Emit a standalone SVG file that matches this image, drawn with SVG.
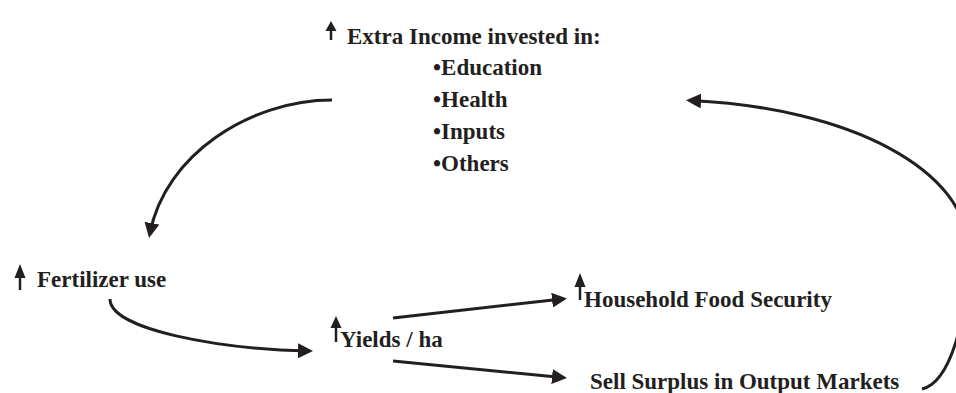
<svg xmlns="http://www.w3.org/2000/svg" width="956" height="393" viewBox="0 0 956 393">
<style>
.t{font-family:"Liberation Serif","Times New Roman",serif;font-weight:bold;font-size:23px;fill:#231f20}
.c{fill:none;stroke:#231f20;stroke-width:3;marker-end:url(#ah)}
.up polygon{fill:#231f20}
.up line{stroke:#231f20;stroke-width:2.5}
</style>
<defs>
<marker id="ah" markerUnits="userSpaceOnUse" markerWidth="15" markerHeight="15" viewBox="0 0 15 15" refX="10" refY="7.5" orient="auto">
<path d="M0,0 L15,7.5 L0,15 z" fill="#231f20"/>
</marker>
</defs>
<rect width="956" height="393" fill="#fff"/>
<g id="income">
<g class="up"><polygon points="331,21 325.5,31 336.5,31"/><line x1="331" y1="30" x2="331" y2="40"/></g>
<text class="t" x="347" y="44">Extra Income invested in:</text>
<text class="t" x="433" y="75">•Education</text>
<text class="t" x="433" y="107">•Health</text>
<text class="t" x="433" y="139">•Inputs</text>
<text class="t" x="433" y="171">•Others</text>
</g>
<g id="fertilizer">
<g class="up"><polygon points="20,264 14.5,278 25.5,278"/><line x1="20" y1="276" x2="20" y2="290"/></g>
<text class="t" x="37" y="287">Fertilizer use</text>
</g>
<g id="yields">
<g class="up"><polygon points="336,316 330.5,328 341.5,328"/><line x1="336" y1="326" x2="336" y2="342"/></g>
<text class="t" x="340" y="347">Yields / ha</text>
</g>
<g id="foodsecurity">
<g class="up"><polygon points="580,273 574.5,287 585.5,287"/><line x1="580" y1="285" x2="580" y2="300"/></g>
<text class="t" x="584" y="307">Household Food Security</text>
</g>
<g id="surplus">
<text class="t" x="590" y="389">Sell Surplus in Output Markets</text>
</g>
<g id="connectors">
<path class="c" d="M332,100 C250,100 165,155 150,233"/>
<path class="c" d="M110,299 C110,330 220,349 308,351"/>
<path class="c" d="M393,318 L562,299"/>
<path class="c" d="M393,361 L562,377.5"/>
<path class="c" d="M922,389 C950,382 968,320 968,250 C968,170 850,108 691,100.5"/>
</g>
</svg>
